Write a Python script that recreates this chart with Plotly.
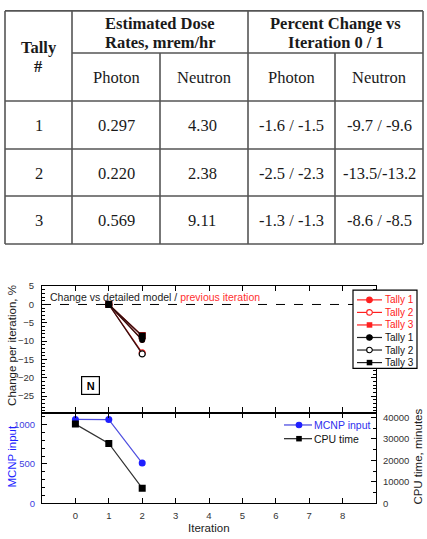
import plotly.graph_objects as go

W, H = 427, 539

# ---------------- data ----------------
tally_ids = ["1", "2", "3"]
photon_dose = ["0.297", "0.220", "0.569"]
neutron_dose = ["4.30", "2.38", "9.11"]
photon_change = ["-1.6 / -1.5", "-2.5 / -2.3", "-1.3 / -1.3"]
neutron_change = ["-9.7 / -9.6", "-13.5/-13.2", "-8.6 / -8.5"]

iter_change = [1, 2]
tally_names = ["Tally 1", "Tally 2", "Tally 3"]
chg_detailed = [[0, -9.7], [0, -13.5], [0, -8.6]]   # vs detailed model (black)
chg_previous = [[0, -9.6], [0, -13.2], [0, -8.5]]   # vs previous iteration (red)

iterations = [0, 1, 2]
mcnp_input = [1066, 1064, 512]
cpu_time = [36900, 27900, 7050]

x_ticks = list(range(0, 9))

# ---------------- helpers ----------------
def px(x):
    return x / W

def py(y):
    return 1 - y / H

RED = "#ff2020"
BLUE = "#1f1fff"
SANS = "Liberation Sans, Arial, sans-serif"
SERIF = "Liberation Serif, Times New Roman, serif"

fig = go.Figure()

symbols = ["circle", "circle", "square"]
fills = ["fill", "open", "fill"]

def marker(color, kind, sym):
    if kind == "open":
        return dict(symbol="circle", size=6, color="white", line=dict(color=color, width=1.2))
    return dict(symbol=sym, size=6 if sym == "circle" else 7, color=color, line=dict(width=0))

for i in range(3):
    fig.add_trace(go.Scatter(x=iter_change, y=chg_previous[i], xaxis="x2", yaxis="y2",
                             mode="lines+markers", line=dict(color="#c01010", width=1.2),
                             marker=marker(RED, fills[i], symbols[i]), showlegend=False))
for i in range(3):
    fig.add_trace(go.Scatter(x=iter_change, y=chg_detailed[i], xaxis="x2", yaxis="y2",
                             mode="lines+markers", line=dict(color="#301010", width=1.2),
                             marker=marker("black", fills[i], symbols[i]), showlegend=False))

fig.add_trace(go.Scatter(x=iterations, y=mcnp_input, xaxis="x", yaxis="y",
                         mode="lines+markers", line=dict(color="#5050e0", width=1.2),
                         marker=dict(symbol="circle", size=7, color=BLUE), showlegend=False))
fig.add_trace(go.Scatter(x=iterations, y=cpu_time, xaxis="x", yaxis="y3",
                         mode="lines+markers", line=dict(color="#333333", width=1.2),
                         marker=dict(symbol="square", size=7, color="black"), showlegend=False))

# ---------------- axes ----------------
x0d, x1d = px(42), px(376)
top_dom = [py(415), py(286)]
bot_dom = [py(507.7), py(415)]

tickfont = dict(family=SANS, size=9.5, color="#333")
common_x = dict(domain=[x0d, x1d], range=[-1, 9], tickvals=x_ticks, ticks="inside", ticklen=5,
                tickcolor="black", showline=True, linecolor="black", linewidth=1.1,
                mirror="ticks", showgrid=False, zeroline=False, tickfont=tickfont)

fig.update_layout(
    xaxis=dict(common_x, anchor="y", ticklabelstandoff=3),
    xaxis2=dict(common_x, anchor="y2", showticklabels=False),
    yaxis=dict(domain=bot_dom, range=[0, 1153], tickvals=[0, 500, 1000], ticks="inside",
               ticklen=5, tickcolor="black", showline=True, linecolor="black", linewidth=1.1,
               showgrid=False, zeroline=False, anchor="x", ticklabelstandoff=4,
               tickfont=dict(family=SANS, size=9.5, color="#4040e0"),
               minor=dict(dtick=100, ticks="inside", ticklen=3, tickcolor="black")),
    yaxis3=dict(overlaying="y", side="right", anchor="x", range=[0, 42300],
                tickvals=[0, 10000, 20000, 30000, 40000], tickformat="d", ticks="inside",
                ticklen=5, ticklabelstandoff=4,
                tickcolor="black", showline=True, linecolor="black", linewidth=1.1,
                showgrid=False, zeroline=False, tickfont=tickfont,
                minor=dict(dtick=5000, ticks="inside", ticklen=3, tickcolor="black")),
    yaxis2=dict(domain=top_dom, range=[-29.5, 5], tickvals=[-25, -20, -15, -10, -5, 0, 5],
                ticks="inside", ticklen=5, tickcolor="black", showline=True, linecolor="black",
                linewidth=1.1, mirror="ticks", showgrid=False, zeroline=False, anchor="x2",
                tickfont=tickfont, ticklabelstandoff=5,
                minor=dict(dtick=1, ticks="inside", ticklen=3, tickcolor="black")),
)

shapes = []
annotations = []

# dashed zero line
shapes.append(dict(type="line", xref="x2 domain", yref="y2", x0=0, x1=1, y0=0, y1=0,
                   line=dict(color="black", width=1, dash="dash"), layer="below"))

# ---------------- table ----------------
TBL = dict(color="#555", width=1.6)
hlines = [(5, 5, 423), (48, 72, 423), (97, 5, 423), (146, 5, 423), (194, 5, 423), (243, 5, 423)]
vlines = [(5, 5, 243), (72, 5, 243), (160, 48, 243), (248, 5, 243), (335, 48, 243), (423, 5, 243)]
for y, xa, xb in hlines:
    shapes.append(dict(type="line", xref="paper", yref="paper", x0=px(xa), x1=px(xb),
                       y0=py(y), y1=py(y), line=TBL))
for x, ya, yb in vlines:
    shapes.append(dict(type="line", xref="paper", yref="paper", x0=px(x), x1=px(x),
                       y0=py(ya), y1=py(yb), line=TBL))

def tann(text, x, y, bold=False, size=16.5):
    annotations.append(dict(text=f"<b>{text}</b>" if bold else text, x=px(x), y=py(y),
                            xref="paper", yref="paper", xanchor="center", yanchor="middle",
                            showarrow=False, font=dict(family=SERIF, size=size, color="#1a1a1a")))

tann("Tally", 38.5, 42, bold=True)
tann("#", 38.5, 62, bold=True)
tann("Estimated Dose", 160, 18, bold=True)
tann("Rates, mrem/hr", 160, 37, bold=True)
tann("Percent Change vs", 335.5, 18, bold=True)
tann("Iteration 0 / 1", 335.5, 37, bold=True)
tann("Photon", 116, 73)
tann("Neutron", 204, 73)
tann("Photon", 291.5, 73)
tann("Neutron", 379, 73)
row_y = [122, 171, 219]
for i in range(3):
    tann(tally_ids[i], 38.5, row_y[i])
    tann(photon_dose[i], 116, row_y[i])
    tann(neutron_dose[i], 202, row_y[i])
    tann(photon_change[i], 291.5, row_y[i])
    tann(neutron_change[i], 379, row_y[i])

# ---------------- chart text ----------------
afont = dict(family=SANS, size=11.5, color="#222")
annotations.append(dict(text="Change per iteration, %", x=px(12), y=py(347), xref="paper",
                        yref="paper", textangle=-90, showarrow=False, font=afont,
                        xanchor="center", yanchor="middle"))
annotations.append(dict(text="MCNP input", x=px(12), y=py(460), xref="paper", yref="paper",
                        textangle=-90, showarrow=False,
                        font=dict(family=SANS, size=11.5, color=BLUE),
                        xanchor="center", yanchor="middle"))
annotations.append(dict(text="CPU time, minutes", x=px(418), y=py(460), xref="paper",
                        yref="paper", textangle=-90, showarrow=False, font=afont,
                        xanchor="center", yanchor="middle"))
annotations.append(dict(text="Iteration", x=px(209), y=py(533), xref="paper", yref="paper",
                        showarrow=False, font=afont, xanchor="center", yanchor="middle"))
annotations.append(dict(text='Change vs detailed model / <span style="color:#ff3030">previous iteration</span>',
                        x=px(48), y=py(297), xref="paper", yref="paper", showarrow=False,
                        font=dict(family=SANS, size=10.5, color="#222"),
                        xanchor="left", yanchor="middle"))
annotations.append(dict(text="<b>N</b>", x=px(90), y=py(387), xref="paper", yref="paper",
                        showarrow=False, font=dict(family=SANS, size=11, color="black"),
                        xanchor="center", yanchor="middle", bordercolor="black",
                        borderwidth=1.2, borderpad=3, bgcolor="white", width=11, height=11))

# ---------------- legends (drawn manually) ----------------
shapes.append(dict(type="rect", xref="paper", yref="paper", x0=px(353), x1=px(417),
                   y0=py(290), y1=py(370), line=dict(color="black", width=1.2),
                   fillcolor="white", layer="above"))

def leg_item(y, color, linecolor, kind, label, textcolor, lx0, lx1, mx, tx, fsize):
    shapes.append(dict(type="line", xref="paper", yref="paper", x0=px(lx0), x1=px(lx1),
                       y0=py(y), y1=py(y), line=dict(color=linecolor, width=1.2), layer="above"))
    r = 2.8
    if kind == "square":
        shapes.append(dict(type="rect", xref="paper", yref="paper", x0=px(mx - r), x1=px(mx + r),
                           y0=py(y + r), y1=py(y - r), line=dict(width=0), fillcolor=color,
                           layer="above"))
    else:
        shapes.append(dict(type="circle", xref="paper", yref="paper", x0=px(mx - r), x1=px(mx + r),
                           y0=py(y + r), y1=py(y - r), line=dict(color=color, width=1.1),
                           fillcolor="white" if kind == "open" else color, layer="above"))
    annotations.append(dict(text=label, x=px(tx), y=py(y), xref="paper", yref="paper",
                            showarrow=False, xanchor="left", yanchor="middle",
                            font=dict(family=SANS, size=fsize, color=textcolor)))

leg_y = [300, 312.8, 325.6, 338.4, 351.2, 364]
kinds = ["fill", "open", "square"]
for i in range(3):
    leg_item(leg_y[i], RED, RED, kinds[i], tally_names[i], RED, 357, 382, 369.5, 383, 10)
for i in range(3):
    leg_item(leg_y[i + 3], "black", "#222", kinds[i], tally_names[i], "#111", 357, 382, 369.5, 383, 10)

leg_item(427.7, BLUE, "#4040e0", "fill", "MCNP input", "#3030ee", 284, 312, 299, 312, 10.5)
leg_item(441.7, "black", "#222", "square", "CPU time", "#111", 284, 312, 299, 312, 10.5)

fig.update_layout(width=W, height=H, margin=dict(l=0, r=0, t=0, b=0), autosize=False,
                  paper_bgcolor="white", plot_bgcolor="white", showlegend=False,
                  shapes=shapes, annotations=annotations)

fig.write_html("out.html")
